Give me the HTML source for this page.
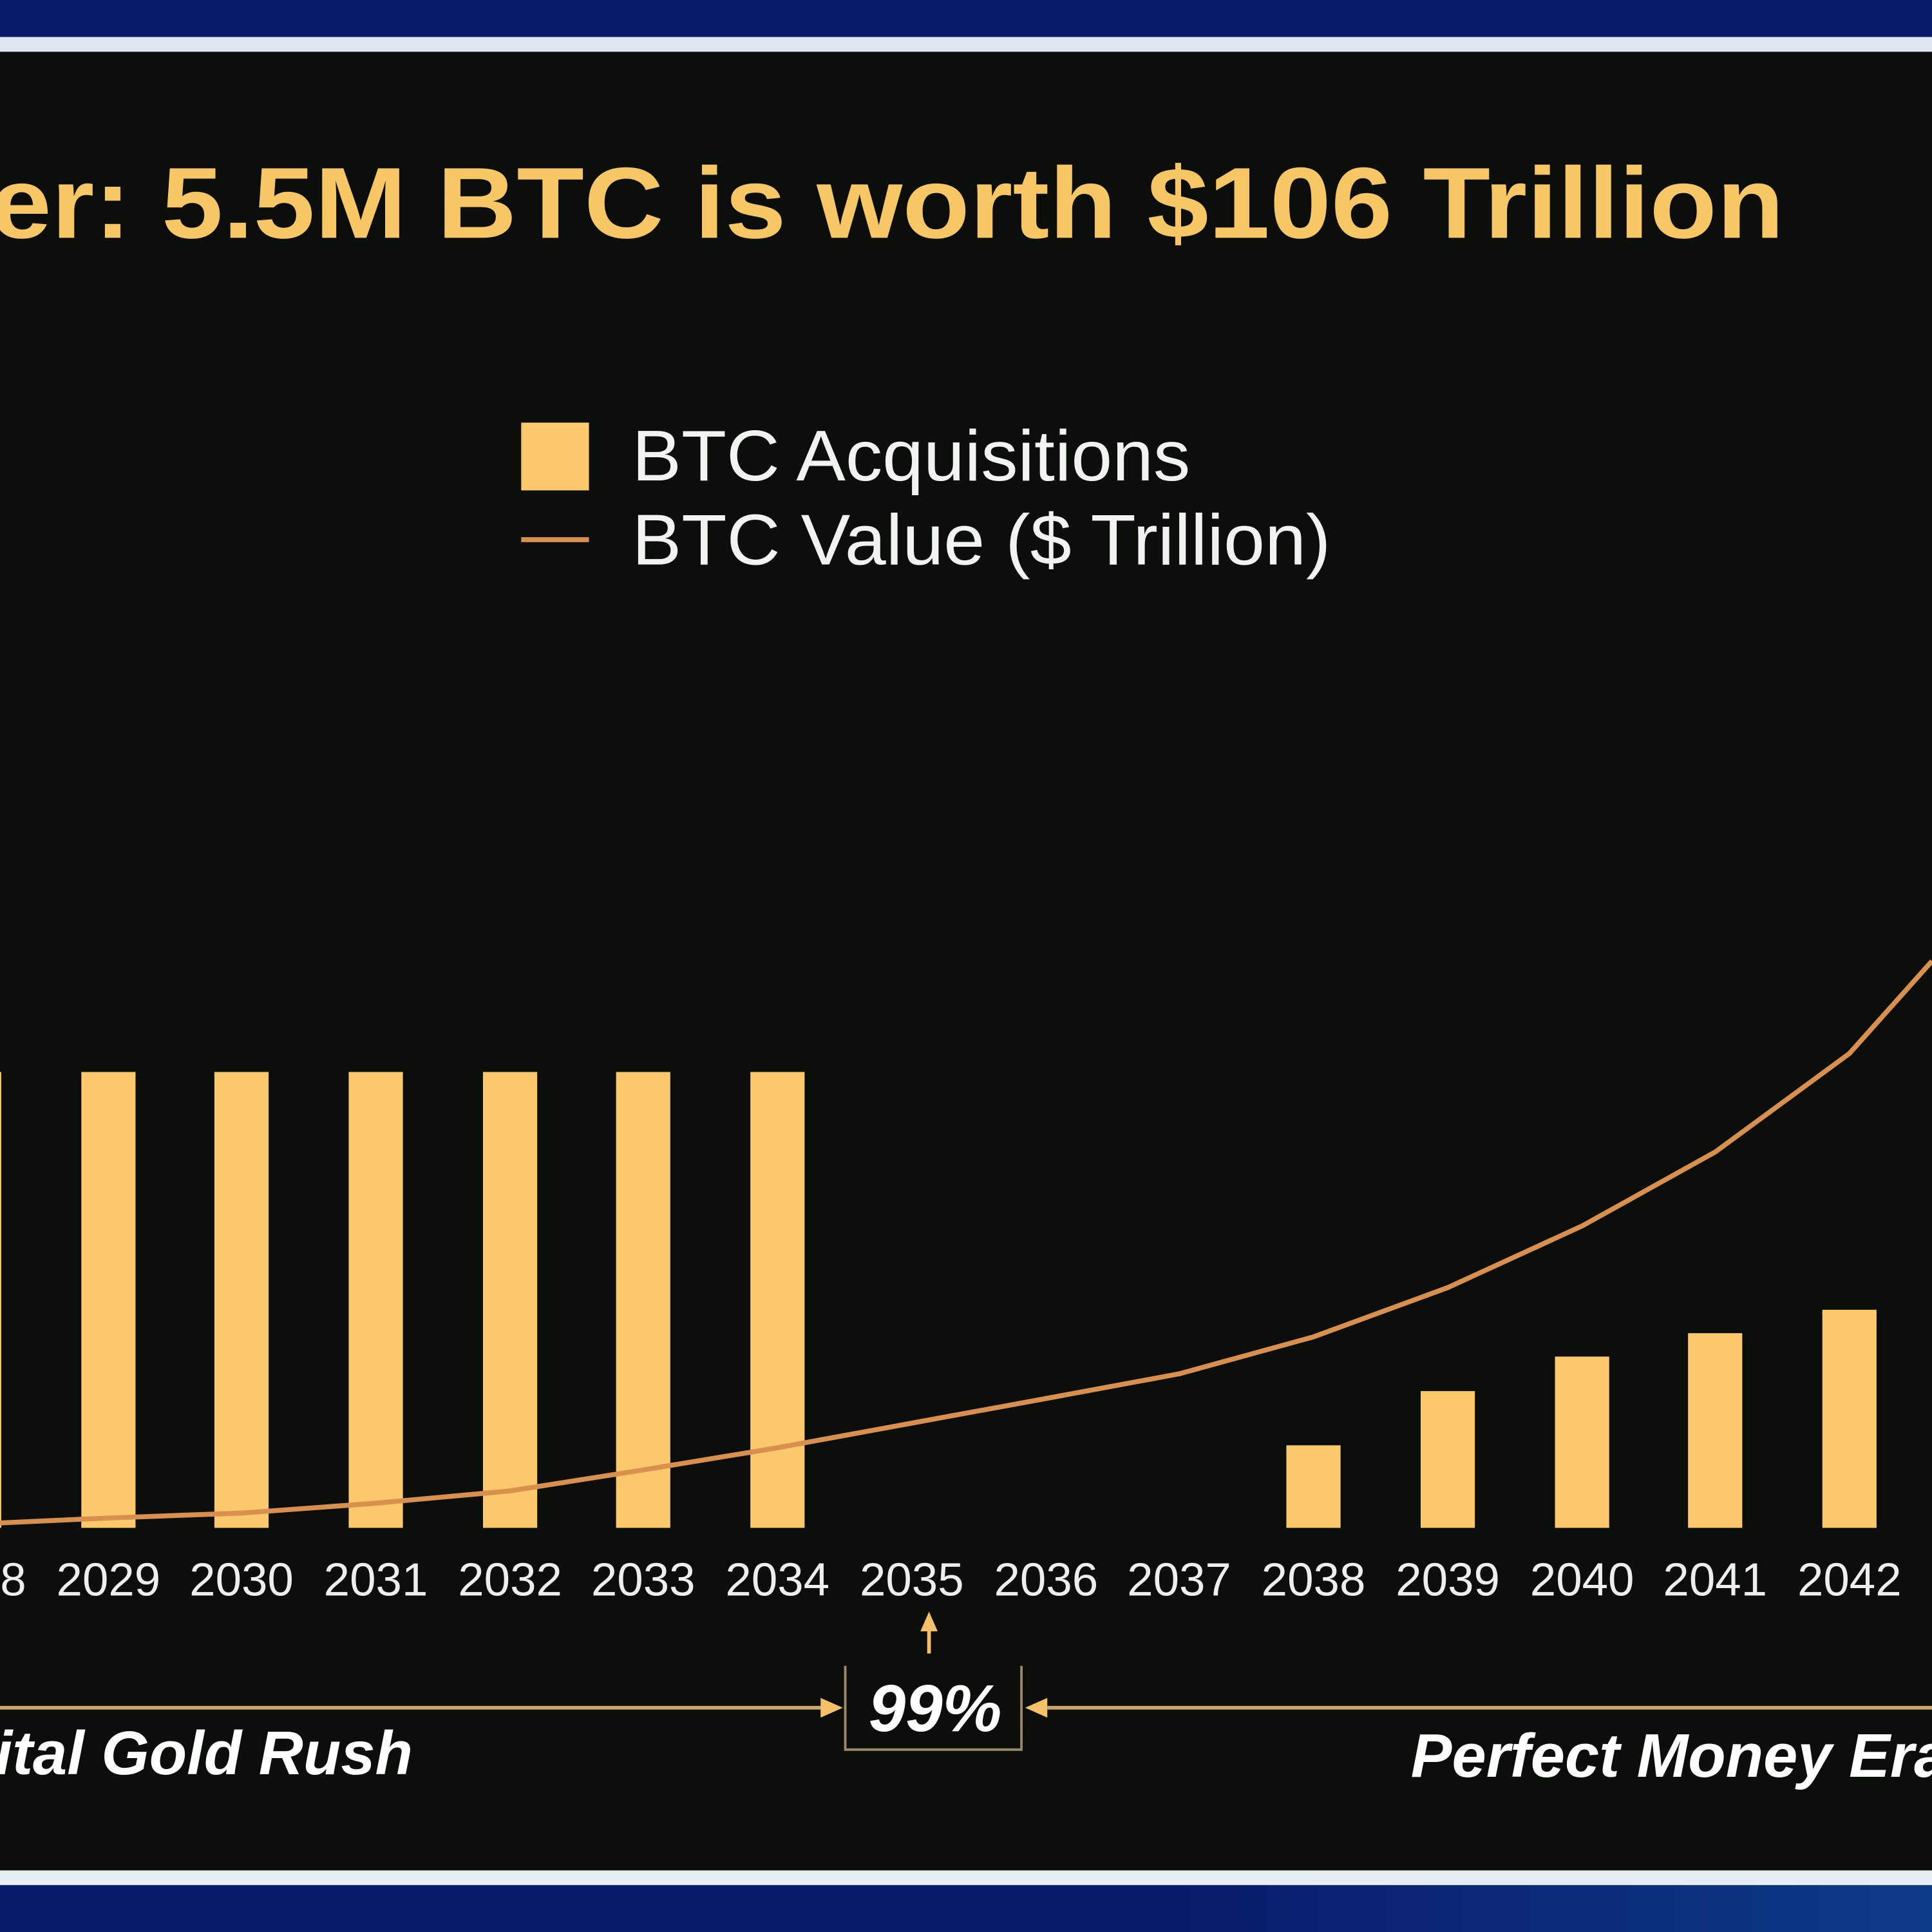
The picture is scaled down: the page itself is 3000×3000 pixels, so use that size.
<!DOCTYPE html>
<html><head><meta charset="utf-8"><style>
html,body{margin:0;padding:0;background:#0c0e0b;overflow:hidden}
svg{display:block}
text{font-family:"Liberation Sans",sans-serif}
</style></head><body>
<svg width="3000" height="3000" viewBox="0 0 1568 1568" xmlns="http://www.w3.org/2000/svg">
<defs>
<linearGradient id="bl" x1="0" x2="1"><stop offset="0" stop-color="#0a1a6a"/><stop offset="0.6" stop-color="#0a1a6a"/><stop offset="1" stop-color="#0e3a8a"/></linearGradient>
</defs>
<rect width="1568" height="1568" fill="#0c0e0b"/>
<rect x="0" y="0" width="1568" height="30" fill="#0b1b6c"/>
<rect x="0" y="30" width="1568" height="12" fill="#dfe7f2"/>
<rect x="0" y="1518" width="1568" height="12" fill="#e6eef4"/>
<rect x="0" y="1530" width="1568" height="38" fill="url(#bl)"/>

<text x="-8" y="193" font-size="82" font-weight="bold" fill="#f7c765" textLength="1456" lengthAdjust="spacingAndGlyphs">er: 5.5M BTC is worth $106 Trillion</text>

<rect x="423" y="343" width="55" height="55" fill="#fbc96b"/>
<text x="513" y="390" font-size="58" fill="#f2f2f2" textLength="453" lengthAdjust="spacingAndGlyphs">BTC Acquisitions</text>
<line x1="423" y1="438" x2="478" y2="438" stroke="#d98f4e" stroke-width="4"/>
<text x="513" y="458" font-size="58" fill="#f2f2f2" textLength="567" lengthAdjust="spacingAndGlyphs">BTC Value ($ Trillion)</text>

<g fill="#fbc96b">
<rect x="-43" y="870" width="44" height="370"/>
<rect x="66" y="870" width="44" height="370"/>
<rect x="174" y="870" width="44" height="370"/>
<rect x="283" y="870" width="44" height="370"/>
<rect x="392" y="870" width="44" height="370"/>
<rect x="500" y="870" width="44" height="370"/>
<rect x="609" y="870" width="44" height="370"/>
<rect x="1044" y="1173" width="44" height="67"/>
<rect x="1153" y="1129" width="44" height="111"/>
<rect x="1262" y="1101" width="44" height="139"/>
<rect x="1370" y="1082" width="44" height="158"/>
<rect x="1479" y="1063" width="44" height="177"/>
</g>

<polyline fill="none" stroke="#d98f4e" stroke-width="4" stroke-linejoin="round" points="0,1236 88,1232 196,1228 305,1220 414,1210 522,1193 631,1175 740,1155 849,1135 957,1115 1066,1085 1175,1045 1284,995 1392,935 1501,855 1568,780"/>

<g font-size="38" fill="#eeeeee" text-anchor="middle">
<text x="-21" y="1295">2028</text>
<text x="88" y="1295">2029</text>
<text x="196" y="1295">2030</text>
<text x="305" y="1295">2031</text>
<text x="414" y="1295">2032</text>
<text x="522" y="1295">2033</text>
<text x="631" y="1295">2034</text>
<text x="740" y="1295">2035</text>
<text x="849" y="1295">2036</text>
<text x="957" y="1295">2037</text>
<text x="1066" y="1295">2038</text>
<text x="1175" y="1295">2039</text>
<text x="1284" y="1295">2040</text>
<text x="1392" y="1295">2041</text>
<text x="1501" y="1295">2042</text>
<text x="1610" y="1295">2043</text>
</g>

<line x1="754" y1="1342" x2="754" y2="1320" stroke="#f5c06a" stroke-width="3"/>
<polygon points="754,1308 747,1324 761,1324" fill="#f5c06a"/>

<line x1="0" y1="1386" x2="670" y2="1386" stroke="#c9a76c" stroke-width="3"/>
<polygon points="684,1386 666,1378 666,1394" fill="#f5c06a"/>
<line x1="850" y1="1386" x2="1568" y2="1386" stroke="#c9a76c" stroke-width="3"/>
<polygon points="832,1386 850,1378 850,1394" fill="#f5c06a"/>
<polyline points="686,1352 686,1420 829,1420 829,1352" fill="none" stroke="#9a8a6a" stroke-width="2"/>
<text x="759" y="1405" font-size="54" font-weight="bold" font-style="italic" fill="#ffffff" text-anchor="middle">99%</text>

<text x="335" y="1440" font-size="50" font-weight="bold" font-style="italic" fill="#ffffff" text-anchor="end">ital Gold Rush</text>
<text x="1145" y="1442" font-size="50" font-weight="bold" font-style="italic" fill="#ffffff">Perfect Money Era</text>
</svg>
</body></html>
